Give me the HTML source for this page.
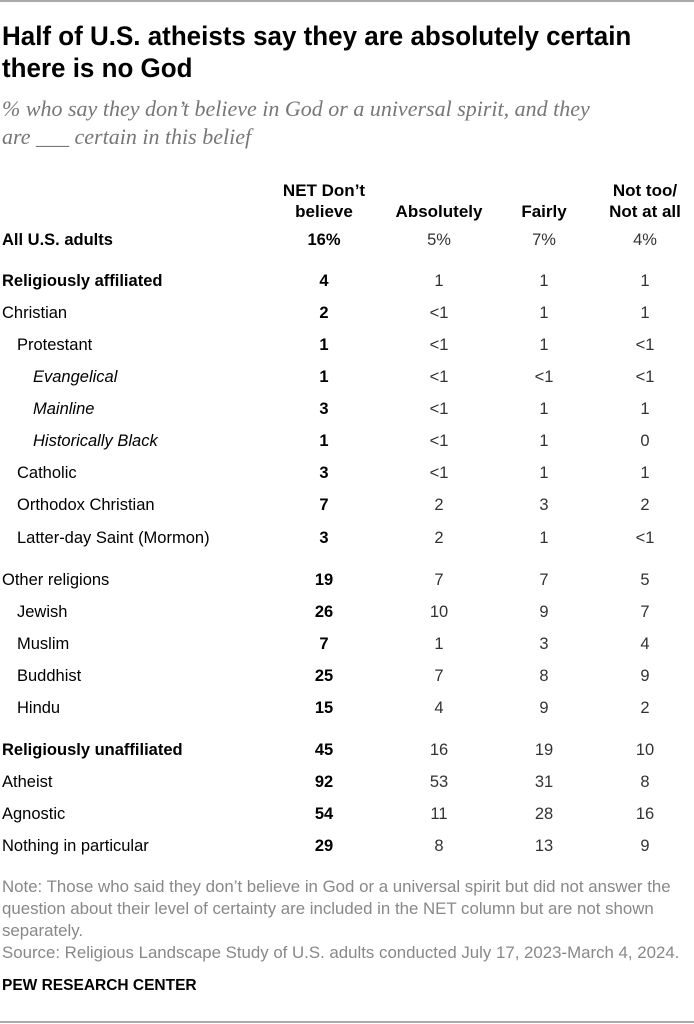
<!DOCTYPE html>
<html><head><meta charset="utf-8">
<style>
body{margin:0;width:694px;height:1024px;background:#fff;position:relative;font-family:"Liberation Sans",sans-serif;color:#000;overflow:hidden}
.rule{position:absolute;left:0;width:694px;height:2px;background:#aaa}
.title{position:absolute;left:2px;top:20px;font-weight:bold;font-size:26.5px;line-height:32px;transform:scaleX(0.98);transform-origin:left top;width:800px;white-space:nowrap}
.sub{position:absolute;left:2px;top:95px;font-family:"Liberation Serif",serif;font-style:italic;color:#777;font-size:22px;line-height:28px;width:720px;white-space:nowrap}
.hdr{position:absolute;font-weight:bold;font-size:17px;line-height:21px;text-align:center;width:120px}
.row{position:absolute;left:0;width:694px;height:24px;font-size:16.5px;line-height:24px}
.lab{position:absolute;white-space:nowrap}
.v{position:absolute;width:80px;text-align:center;color:#333}
.v.net{font-weight:bold;color:#000}
.note{position:absolute;left:2px;top:876px;font-size:16.5px;line-height:22px;color:#888;transform:scaleX(1.02);transform-origin:left top;width:750px;white-space:nowrap}
.src{position:absolute;left:2px;top:944px;font-size:16.5px;color:#888;transform:scaleX(1.02);transform-origin:left top;width:750px;white-space:nowrap}
.pew{position:absolute;left:2px;top:977px;font-size:15.5px;font-weight:bold;white-space:nowrap}
</style></head><body>
<div class="rule" style="top:0"></div>
<div class="title">Half of U.S. atheists say they are absolutely certain<br>there is no God</div>
<div class="sub">% who say they don’t believe in God or a universal spirit, and they<br>are ___ certain in this belief</div>
<div class="hdr" style="left:264px;top:180px">NET Don’t<br>believe</div>
<div class="hdr" style="left:379px;top:201px">Absolutely</div>
<div class="hdr" style="left:484px;top:201px">Fairly</div>
<div class="hdr" style="left:585px;top:180px">Not too/<br>Not at all</div>
<div id="table"></div>
<div class="note">Note: Those who said they don’t believe in God or a universal spirit but did not answer the<br>question about their level of certainty are included in the NET column but are not shown<br>separately.</div>
<div class="src">Source: Religious Landscape Study of U.S. adults conducted July 17, 2023-March 4, 2024.</div>
<div class="pew">PEW RESEARCH CENTER</div>
<div class="rule" style="top:1021px"></div>
<script>
const labels=["All U.S. adults","Religiously affiliated","Christian","Protestant","Evangelical","Mainline","Historically Black","Catholic","Orthodox Christian","Latter-day Saint (Mormon)","Other religions","Jewish","Muslim","Buddhist","Hindu","Religiously unaffiliated","Atheist","Agnostic","Nothing in particular"];
const netVals=["16%","4","2","1","1","3","1","3","7","3","19","26","7","25","15","45","92","54","29"];
const absVals=["5%","1","<1","<1","<1","<1","<1","<1","2","2","7","10","1","7","4","16","53","11","8"];
const fairVals=["7%","1","1","1","<1","1","1","1","3","1","7","9","3","8","9","19","31","28","13"];
const notVals=["4%","1","1","<1","<1","1","0","1","2","<1","5","7","4","9","2","10","8","16","9"];
const indent=[0,0,0,1,2,2,2,1,1,1,0,1,1,1,1,0,0,0,0];
const bold=[1,1,0,0,0,0,0,0,0,0,0,0,0,0,0,1,0,0,0];
const rowY=[240,281,313,345,377,409,441,473,505,538,580,612,644,676,708,750,782,814,846];
const t=document.getElementById('table');
const cols=[[netVals,324,'net'],[absVals,439,'abs'],[fairVals,544,'fair'],[notVals,645,'not']];
labels.forEach((l,i)=>{
  const r=document.createElement('div');r.className='row';r.style.top=(rowY[i]-12)+'px';
  
  
  const s=document.createElement('span');s.className='lab';s.textContent=l;
  s.style.left=[2,17,33][indent[i]]+'px';
  if(bold[i])s.style.fontWeight='bold';
  if(indent[i]==2)s.style.fontStyle='italic';
  
  
  r.appendChild(s);
  cols.forEach(c=>{
    const v=document.createElement('span');v.className='v'+(c[2]=='net'?' net':'');
    v.style.left=(c[1]-40)+'px';v.textContent=c[0][i];
    
    
    r.appendChild(v);
  });
  t.appendChild(r);
});
</script>
</body></html>
